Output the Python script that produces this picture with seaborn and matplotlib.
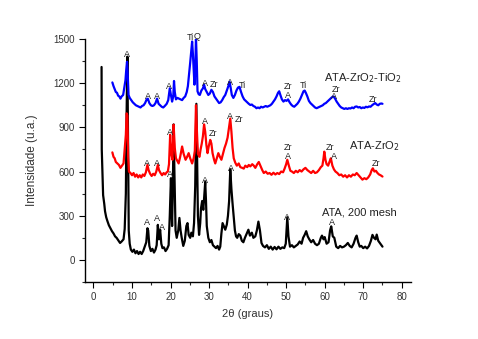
import matplotlib
matplotlib.use("Agg")
import matplotlib.pyplot as plt
import seaborn as sns
import pandas as pd
from matplotlib.ticker import MultipleLocator

# ---------------- data ----------------
ata_200 = [(2.1, 1310), (2.15, 750), (2.5, 440), (2.8, 380), (3.0, 330), (3.3, 290), (3.6, 265), (4.0, 235),
           (4.4, 215), (4.8, 195), (5.2, 180), (5.6, 160), (6.0, 150), (6.4, 135), (6.9, 115), (7.3, 125),
           (7.8, 140), (8.1, 210), (8.4, 450), (8.6, 1000), (8.8, 1380), (9.0, 700), (9.15, 200), (9.4, 110),
           (9.7, 70), (10.1, 55), (10.5, 70), (10.9, 45), (11.3, 60), (11.7, 40), (12.1, 55), (12.5, 40),
           (12.9, 60), (13.3, 90), (13.7, 120), (14.0, 215), (14.2, 200), (14.5, 95), (14.9, 60), (15.3, 75),
           (15.7, 50), (16.1, 70), (16.4, 100), (16.7, 238), (17.0, 140), (17.3, 205), (17.6, 110), (17.9, 80),
           (18.3, 85), (18.7, 60), (19.1, 75), (19.5, 100), (19.8, 300), (20.1, 555), (20.4, 230), (20.6, 500),
           (20.8, 920), (21.0, 600), (21.3, 200), (21.6, 150), (22.0, 200), (22.3, 285), (22.6, 200), (22.9, 150),
           (23.3, 95), (23.7, 130), (24.1, 230), (24.4, 250), (24.7, 170), (25.1, 150), (25.4, 185), (25.8, 160),
           (26.1, 250), (26.4, 500), (26.7, 1060), (26.9, 700), (27.1, 300), (27.4, 170), (27.7, 250), (27.9, 350),
           (28.2, 400), (28.5, 340), (28.8, 450), (29.0, 530), (29.2, 400), (29.4, 230), (29.8, 150), (30.2, 120),
           (30.6, 135), (31.0, 100), (31.4, 90), (31.8, 80), (32.2, 95), (32.6, 70), (32.9, 90), (33.2, 180),
           (33.5, 250), (33.8, 230), (34.2, 205), (34.6, 240), (34.9, 300), (35.2, 400), (35.5, 615), (35.8, 480),
           (36.1, 380), (36.4, 290), (36.7, 200), (37.0, 160), (37.3, 150), (37.7, 175), (38.1, 165), (38.5, 130),
           (38.9, 120), (39.3, 150), (39.7, 175), (40.2, 205), (40.6, 165), (41.1, 185), (41.5, 150), (42.0, 160),
           (42.4, 200), (42.8, 260), (43.2, 200), (43.6, 115), (44.0, 95), (44.5, 85), (45.0, 100), (45.5, 75),
           (46.0, 90), (46.5, 70), (47.0, 88), (47.5, 72), (48.0, 90), (48.5, 75), (49.0, 85), (49.5, 80),
           (49.9, 110), (50.3, 290), (50.6, 160), (51.0, 90), (51.5, 100), (52.0, 85), (52.5, 95), (53.0, 105),
           (53.5, 125), (54.0, 110), (54.4, 150), (54.8, 170), (55.2, 195), (55.6, 160), (56.0, 140), (56.5, 120),
           (57.0, 135), (57.5, 110), (58.0, 100), (58.5, 110), (59.0, 150), (59.3, 165), (59.7, 140), (60.0, 155),
           (60.5, 110), (61.0, 120), (61.4, 200), (61.7, 228), (62.1, 160), (62.5, 150), (63.0, 90), (63.5, 80),
           (64.0, 95), (64.5, 85), (65.0, 90), (65.5, 100), (66.0, 115), (66.5, 95), (67.0, 85), (67.5, 110),
           (68.0, 150), (68.3, 165), (68.7, 120), (69.1, 90), (69.5, 95), (70.0, 80), (70.5, 90), (71.0, 78),
           (71.5, 95), (72.0, 130), (72.4, 170), (72.8, 150), (73.2, 140), (73.5, 172), (73.9, 130), (74.3, 115),
           (74.7, 100), (75.0, 90)]

ata_zro2 = [(4.9, 730), (5.2, 700), (5.5, 690), (5.8, 665), (6.2, 655), (6.6, 645), (7.0, 625), (7.4, 640),
            (7.8, 655), (8.1, 750), (8.4, 850), (8.6, 995), (8.8, 980), (9.0, 700), (9.2, 600), (9.6, 590),
            (10.0, 575), (10.4, 590), (10.8, 565), (11.2, 580), (11.6, 560), (12.0, 575), (12.4, 560), (12.8, 580),
            (13.2, 570), (13.6, 595), (14.0, 645), (14.3, 610), (14.7, 585), (15.1, 570), (15.5, 585), (15.9, 575),
            (16.3, 600), (16.7, 645), (17.0, 610), (17.4, 590), (17.8, 575), (18.2, 590), (18.6, 580), (19.0, 595),
            (19.3, 600), (19.6, 650), (19.9, 850), (20.2, 720), (20.5, 680), (20.8, 918), (21.1, 760), (21.4, 690),
            (21.8, 670), (22.1, 655), (22.5, 700), (23.0, 770), (23.4, 720), (23.9, 680), (24.3, 700), (24.7, 725),
            (25.1, 690), (25.6, 655), (26.0, 690), (26.3, 740), (26.6, 1050), (26.8, 900), (27.1, 720), (27.5, 700),
            (27.8, 750), (28.1, 790), (28.4, 840), (28.7, 920), (29.0, 870), (29.3, 780), (29.6, 725), (29.9, 770),
            (30.3, 815), (30.6, 790), (30.9, 725), (31.3, 680), (31.6, 655), (32.0, 690), (32.4, 725), (32.8, 700),
            (33.2, 680), (33.6, 720), (34.0, 760), (34.4, 790), (34.8, 830), (35.1, 885), (35.5, 960), (35.8, 870),
            (36.1, 760), (36.4, 690), (36.8, 660), (37.2, 640), (37.7, 655), (38.1, 630), (38.6, 625), (39.0, 620),
            (39.4, 640), (39.9, 630), (40.3, 645), (40.7, 635), (41.2, 650), (41.6, 640), (42.0, 625), (42.5, 650),
            (42.9, 665), (43.3, 640), (43.8, 610), (44.2, 590), (44.7, 600), (45.2, 585), (45.7, 590), (46.2, 578),
            (46.7, 592), (47.2, 580), (47.7, 590), (48.2, 583), (48.7, 600), (49.2, 595), (49.6, 620), (50.0, 650),
            (50.3, 680), (50.7, 640), (51.1, 605), (51.5, 600), (52.0, 590), (52.5, 605), (53.0, 595), (53.5, 610),
            (54.0, 600), (54.5, 615), (55.0, 625), (55.5, 610), (56.0, 600), (56.5, 590), (57.0, 605), (57.5, 590),
            (58.0, 595), (58.5, 610), (59.0, 630), (59.4, 640), (59.7, 690), (59.9, 735), (60.2, 680), (60.5, 650),
            (60.9, 640), (61.3, 670), (61.6, 690), (62.0, 640), (62.4, 615), (62.8, 600), (63.3, 590), (63.8, 575),
            (64.3, 580), (64.8, 565), (65.3, 575), (65.8, 560), (66.3, 575), (66.8, 565), (67.3, 580), (67.8, 575),
            (68.3, 590), (68.8, 575), (69.3, 560), (69.8, 545), (70.3, 555), (70.8, 548), (71.3, 560), (71.8, 580),
            (72.2, 610), (72.5, 622), (72.9, 600), (73.3, 605), (73.7, 590), (74.1, 580), (74.5, 575), (75.0, 566)]

ata_zro2_tio2 = [(4.9, 1205), (5.2, 1180), (5.5, 1160), (5.8, 1140), (6.1, 1135), (6.4, 1115), (6.7, 1110),
                 (7.0, 1095), (7.3, 1110), (7.7, 1120), (8.0, 1170), (8.3, 1220), (8.5, 1290), (8.7, 1345),
                 (8.9, 1250), (9.1, 1120), (9.4, 1100), (9.8, 1085), (10.2, 1070), (10.6, 1060), (11.0, 1050),
                 (11.4, 1045), (11.8, 1040), (12.2, 1035), (12.6, 1045), (13.0, 1050), (13.4, 1065), (13.8, 1090),
                 (14.1, 1095), (14.5, 1065), (14.9, 1050), (15.3, 1045), (15.7, 1050), (16.1, 1065), (16.5, 1095),
                 (16.9, 1060), (17.3, 1050), (17.7, 1040), (18.1, 1035), (18.5, 1045), (19.0, 1060), (19.4, 1085),
                 (19.8, 1165), (20.1, 1120), (20.4, 1075), (20.7, 1110), (20.9, 1215), (21.1, 1140), (21.4, 1090),
                 (21.8, 1100), (22.2, 1095), (22.6, 1090), (23.0, 1085), (23.4, 1100), (23.8, 1110), (24.2, 1140),
                 (24.5, 1180), (24.8, 1260), (25.1, 1340), (25.4, 1430), (25.6, 1483), (25.8, 1400), (26.0, 1290),
                 (26.2, 1190), (26.4, 1280), (26.6, 1510), (26.8, 1350), (27.0, 1145), (27.3, 1125), (27.6, 1120),
                 (28.0, 1150), (28.4, 1165), (28.7, 1190), (29.0, 1160), (29.4, 1140), (29.8, 1120), (30.2, 1130),
                 (30.6, 1155), (31.0, 1140), (31.4, 1110), (31.8, 1095), (32.2, 1080), (32.6, 1065), (33.0, 1070),
                 (33.4, 1085), (33.8, 1105), (34.2, 1120), (34.6, 1150), (35.0, 1180), (35.3, 1210), (35.6, 1170),
                 (35.9, 1120), (36.3, 1100), (36.7, 1120), (37.1, 1150), (37.5, 1170), (37.9, 1175), (38.3, 1140),
                 (38.7, 1110), (39.1, 1090), (39.5, 1080), (39.9, 1070), (40.3, 1060), (40.7, 1052), (41.1, 1055),
                 (41.5, 1045), (41.9, 1040), (42.3, 1030), (42.7, 1035), (43.1, 1030), (43.5, 1040), (43.9, 1035),
                 (44.3, 1040), (44.7, 1045), (45.1, 1040), (45.5, 1045), (45.9, 1050), (46.3, 1060), (46.7, 1075),
                 (47.1, 1090), (47.5, 1110), (47.9, 1135), (48.2, 1145), (48.5, 1120), (48.9, 1090), (49.3, 1075),
                 (49.7, 1085), (50.1, 1080), (50.5, 1090), (50.9, 1070), (51.3, 1055), (51.7, 1045), (52.1, 1040),
                 (52.5, 1050), (52.9, 1060), (53.3, 1075), (53.7, 1095), (54.1, 1120), (54.5, 1145), (54.8, 1150),
                 (55.1, 1135), (55.5, 1110), (55.9, 1080), (56.3, 1065), (56.7, 1055), (57.1, 1045), (57.5, 1035),
                 (57.9, 1030), (58.3, 1035), (58.7, 1040), (59.1, 1045), (59.5, 1050), (59.9, 1060), (60.3, 1065),
                 (60.7, 1075), (61.1, 1085), (61.5, 1095), (61.9, 1105), (62.3, 1110), (62.7, 1095), (63.1, 1075),
                 (63.5, 1060), (63.9, 1045), (64.3, 1035), (64.7, 1030), (65.1, 1025), (65.5, 1030), (65.9, 1025),
                 (66.3, 1030), (66.7, 1028), (67.1, 1035), (67.5, 1030), (67.9, 1040), (68.3, 1042), (68.7, 1035),
                 (69.1, 1038), (69.5, 1030), (69.9, 1035), (70.3, 1032), (70.7, 1040), (71.1, 1036), (71.5, 1042),
                 (71.9, 1040), (72.3, 1050), (72.7, 1058), (73.1, 1065), (73.5, 1055), (73.9, 1050), (74.3, 1060),
                 (74.7, 1062), (75.0, 1060)]

series_names = ["ATA, 200 mesh", "ATA-ZrO$_2$", "ATA-ZrO$_2$-TiO$_2$"]
series_colors = ["#000000", "#FF0000", "#0000FF"]
series_label_pos = [(59.3, 319), (66.3, 774), (59.8, 1232)]

# peak annotations: (2theta, intensity, text)
peak_labels = [
    # ATA-ZrO2-TiO2
    (8.8, 1395, "A"), (14.2, 1107, "A"), (16.6, 1107, "A"), (19.6, 1175, "A"),
    (25.1, 1507, "Ti"), (26.8, 1520, "Q"), (29.0, 1200, "A"), (31.2, 1188, "Zr"),
    (35.3, 1208, "A"), (38.6, 1181, "Ti"), (50.5, 1178, "Zr"), (50.5, 1113, "A"),
    (54.6, 1181, "Ti"), (63.0, 1160, "Zr"), (62.3, 1112, "A"), (72.5, 1086, "Zr"),
    # ATA-ZrO2
    (14.0, 658, "A"), (16.6, 658, "A"), (19.9, 862, "A"), (29.0, 937, "A"),
    (31.0, 855, "Zr"), (35.5, 972, "A"), (37.8, 950, "Zr"), (50.5, 760, "Zr"),
    (50.5, 700, "A"), (61.3, 760, "Zr"), (62.3, 700, "A"), (73.2, 658, "Zr"),
    # ATA, 200 mesh
    (14.0, 251, "A"), (16.6, 278, "A"), (17.9, 217, "A"), (19.9, 577, "A"),
    (29.0, 536, "A"), (35.7, 618, "A"), (50.3, 285, "A"), (61.9, 251, "A"),
]

# ---------------- plot ----------------
sns.set_style("ticks")
plt.rcParams["font.family"] = ["Liberation Sans", "DejaVu Sans"]

fig = plt.figure(figsize=(4.78, 3.39), dpi=100)
ax = fig.add_axes([85 / 478, 1 - 282 / 339, (411 - 85) / 478, (282 - 39) / 339])

for data, name, col in zip([ata_200, ata_zro2, ata_zro2_tio2], series_names, series_colors):
    df = pd.DataFrame(data, columns=["x", "y"])
    sns.lineplot(data=df, x="x", y="y", ax=ax, color=col, linewidth=1.6,
                 estimator=None, sort=False, legend=False)

for (x, y, t) in peak_labels:
    ax.text(x, y, t, fontsize=6.5, ha="center", va="center", color="#222222")

for (pos, name) in zip(series_label_pos, series_names):
    ax.text(pos[0], pos[1], name, fontsize=8, ha="left", va="center", color="#222222")

ax.set_xlim(-2.2, 82.4)
ax.set_ylim(-150, 1500)
ax.xaxis.set_major_locator(MultipleLocator(10))
ax.xaxis.set_minor_locator(MultipleLocator(5))
ax.yaxis.set_major_locator(MultipleLocator(300))
ax.yaxis.set_minor_locator(MultipleLocator(150))
ax.tick_params(axis="both", which="major", direction="out", length=4, width=0.8, labelsize=7,
               colors="#000000", labelcolor="#333333")
ax.tick_params(axis="both", which="minor", direction="out", length=2.5, width=0.8)
for s in ["top", "right"]:
    ax.spines[s].set_visible(False)
for s in ["left", "bottom"]:
    ax.spines[s].set_linewidth(1.0)
    ax.spines[s].set_color("#000000")

ax.set_xlabel("2θ (graus)", fontsize=8, color="#333333", labelpad=5)
ax.set_ylabel("Intensidade (u.a.)", fontsize=8.5, color="#333333", labelpad=11)

fig.savefig("out.png", dpi=100, facecolor="white")
